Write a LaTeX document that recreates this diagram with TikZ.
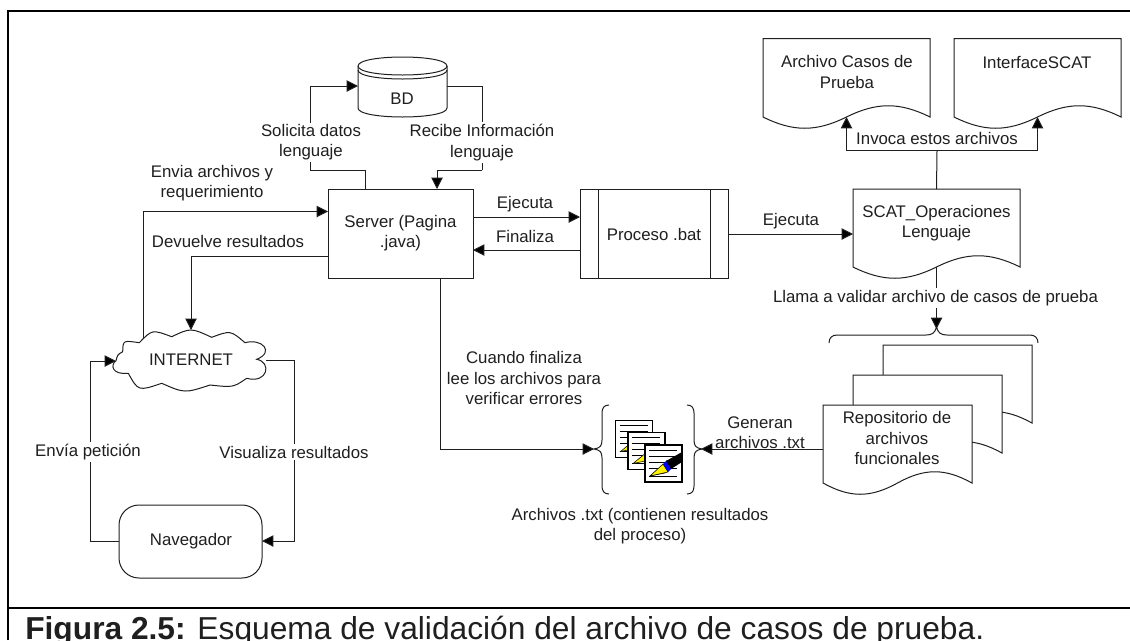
\documentclass[tikz,border=0pt]{standalone}
\usepackage{fontspec}
\setmainfont{Liberation Sans}
\usetikzlibrary{arrows.meta}
\definecolor{ink}{gray}{0.12}
\tikzset{
  ln/.style={draw=ink,line width=0.75pt},
  arr/.style={ln,-{Triangle[length=8.5pt,width=8.5pt,fill=black]}},
  shp/.style={ln,fill=white},
  anchorbox/.style={inner sep=0pt,outer sep=0pt},
  txt/.style={font=\fontsize{12.6pt}{15.2pt}\selectfont,align=center,inner sep=0pt,text=ink},
  lab/.style={txt,fill=white,inner sep=1.5pt},
}
% name x1 y1 x2 y2 : document shape with wavy bottom
\newcommand{\docshape}[5]{%
  \pgfmathsetmacro{\mx}{(#2+#4)/2}%
  \pgfmathsetmacro{\qw}{(#4-#2)/5.5}%
  \pgfmathsetmacro{\cxa}{#2+\qw}\pgfmathsetmacro{\cxb}{\mx-\qw}%
  \pgfmathsetmacro{\cxc}{\mx+\qw}\pgfmathsetmacro{\cxd}{#4-\qw}%
  \pgfmathsetmacro{\ylo}{#5+15}\pgfmathsetmacro{\yhi}{#5-15}%
  \path[shp] (#2,#3) -- (#4,#3) -- (#4,#5)
     .. controls (\cxd,\yhi) and (\cxc,\yhi) .. (\mx,#5)
     .. controls (\cxb,\ylo) and (\cxa,\ylo) .. (#2,#5) -- cycle;
  \node[anchorbox,minimum width={(#4-#2)*0.75pt},minimum height={(#5-#3)*0.75pt}] (#1) at ({(#2+#4)/2},{(#3+#5)/2}) {};
}
% sheet x y
\newcommand{\sheet}[2]{%
  \begin{scope}[shift={(#1,#2)}]
    \path[draw=black,line width=0.9pt,fill=white] (0,0) rectangle (37,37);
    \foreach \yy in {5,11,17,23}{\draw[black,line width=0.7pt] (4,\yy) -- (32,\yy);}
    \draw[black,line width=0.7pt] (4,31) -- (32,31);
    \path[fill=yellow,draw=black,line width=0.4pt] (5,31) -- (16,22) -- (20,28) -- cycle;
  \end{scope}}
\begin{document}
\begin{tikzpicture}[x=0.75pt,y=-0.75pt]
\useasboundingbox (0,0) rectangle (1130,640);
% frame
\draw[black,line width=1.5pt] (8,640) -- (8,10.5) -- (1130,10.5);
\draw[black,line width=1.5pt] (8,608) -- (1130,608);

% --- shapes
\node[anchorbox,shp,minimum width={145*0.75pt},minimum height={89*0.75pt}] (server) at (400.5,233.5) {};
\node[anchorbox,shp,minimum width={148*0.75pt},minimum height={89*0.75pt}] (proceso) at (654,233.5) {};
\draw[ln] (598,189) -- (598,278) (710,189) -- (710,278);
\node[anchorbox,shp,rounded corners=15pt,minimum width={143*0.75pt},minimum height={73*0.75pt}] (nav) at (190.5,541.5) {};

% BD
\path[shp] (358,66) -- (358,108) .. controls (358,120) and (447,120) .. (447,108) -- (447,66)
  .. controls (447,54) and (358,54) .. (358,66) -- cycle;
\draw[ln] (358,66) .. controls (358,78) and (447,78) .. (447,66);
\draw[ln] (358,70) .. controls (358,82) and (447,82) .. (447,70);
\node[anchorbox,minimum width={89*0.75pt},minimum height={60*0.75pt}] (bd) at (402.5,86) {};

% cloud
\path[shp] (116,360.7) .. controls (117.6,354.6) .. (122.7,351.7)
  .. controls (123,340.3) .. (139.3,342.7)
  .. controls (152.2,329.4) .. (171.7,336.7)
  .. controls (190.8,327.7) .. (211.7,337.3)
  .. controls (230.5,330.3) .. (245,342.7)
  .. controls (262,338) and (275,352) .. (256.7,359.3)
  .. controls (272,362) and (268,384) .. (246.7,378.3)
  .. controls (233.2,387.5) .. (210,385)
  .. controls (184.7,393.3) .. (161.7,383.3)
  .. controls (138.3,391.2) .. (128.3,373.3)
  .. controls (112,375) and (110,365) .. (116,360.7) -- cycle;
\node[anchorbox,minimum width={150*0.75pt},minimum height={60*0.75pt}] (cloudn) at (191,361) {};

% documents
\docshape{casos}{763}{38.5}{930}{117}
\docshape{iface}{954}{38.5}{1121}{117}
\docshape{scat}{853}{189}{1020}{267}
\docshape{repoc}{883}{345}{1032}{423}
\docshape{repob}{853}{375}{1002}{453}
\docshape{repo}{823}{405}{972}{483}

% braces
\draw[ln] (609,405) .. controls (604,405) and (602,408) .. (602,413) -- (602,440)
  .. controls (602,446) and (600,448) .. (594,449) .. controls (600,450) and (602,452) .. (602,458) -- (602,486)
  .. controls (602,491) and (604,494) .. (609,494);
\coordinate (bracel) at (594,449);
\draw[ln] (687,405) .. controls (692,405) and (694,408) .. (694,413) -- (694,440)
  .. controls (694,446) and (696,448) .. (702,449) .. controls (696,450) and (694,452) .. (694,458) -- (694,486)
  .. controls (694,491) and (692,494) .. (687,494);
\coordinate (bracer) at (701,449);
\draw[ln] (829,343) .. controls (829,338) and (832,335) .. (837,335) -- (926,335)
  .. controls (932,335) and (935,333) .. (936.5,327) .. controls (938,333) and (941,335) .. (947,335) -- (1030,335)
  .. controls (1035,335) and (1038,338) .. (1038,343);
\coordinate (bracet) at (936.5,329);

% icon
\sheet{615.5}{420.5}
\sheet{628}{432.5}
\sheet{645}{445}
\path[fill=yellow,draw=black,line width=0.4pt] (650,476) -- (663,464) -- (668,472) -- cycle;
\path[fill=blue] (663,464) -- (667,460) -- (672,468) -- (668,472) -- cycle;
\path[fill=black] (666,461) -- (682,452) -- (682,462) -- (671,469) -- cycle;

% --- connector waypoints
\coordinate (solS) at (365,189);
\coordinate (recS) at (437,189);
\coordinate (solY) at (310,170);
\coordinate (recY) at (482,170);
\coordinate (envS) at (328,211.5);
\coordinate (envC) at (143,338);
\coordinate (devS) at (328,256);
\coordinate (ejeS) at (473,217);
\coordinate (ejeP) at (580,217);
\coordinate (finP) at (580,250);
\coordinate (finS) at (473,250);
\coordinate (txtS) at (440,278);
\coordinate (scatW) at (853,234);
\coordinate (procE) at (728,234);
\coordinate (invY) at (937,150.5);
\coordinate (casB) at (846.5,117);
\coordinate (ifaB) at (1037.5,117);
\coordinate (navW) at (119,541);
\coordinate (navE) at (262,541);
\coordinate (lineL) at (90,361);
\coordinate (lineR) at (294,360);
\coordinate (cloudW) at (116,361);
\coordinate (cloudE) at (266,360);
\coordinate (cloudN) at (191,330);
\coordinate (bdW) at (358,86);
\coordinate (bdE) at (447,86);
\coordinate (repoW) at (823,449);

% --- connectors
\draw[arr] (solS) |- (solY) -- (solY |- bdW) -- (bdW);
\draw[arr] (recY) -- (recY -| recS) -- (recS);
\draw[ln] (bdE) -| (recY);
\draw[arr] (envC) |- (envS);
\draw[arr] (devS) -| (cloudN);
\draw[arr] (ejeS) -- (ejeP);
\draw[arr] (finP) -- (finS);
\draw[arr] (procE) -- (scatW);
\draw[arr] (txtS) |- (bracel);
\draw[arr] (repoW) -- (bracer);
\draw[arr] (scat.south) -- (bracet);
\draw[ln] (scat.north) -- (invY);
\draw[arr] (invY) -| (casB);
\draw[arr] (invY) -| (ifaB);
\draw[arr] (navW) -| (lineL) -- (cloudW);
\draw[arr] (cloudE) -| (lineR) |- (navE);

% --- texts
\node[txt] (tbd) at (402,99) {BD};
\node[txt] (tserver) at (400.5,233) {Server (Pagina\\.java)};
\node[txt] (tproc) at (654,234) {Proceso .bat};
\node[txt] (tnav) at (191,541) {Navegador};
\node[txt] (tnet) at (191,360) {INTERNET};
\node[txt] (tcasos) at (847,72) {Archivo Casos de\\Prueba};
\node[txt] (tiface) at (1037,62) {InterfaceSCAT};
\node[txt] (tscat) at (936.5,223) {SCAT\_Operaciones\\Lenguaje};
\node[txt] (trepo) at (897,438) {Repositorio de\\archivos\\funcionales};
\node[lab] (lsol) at (311,142.5) {Solicita datos\\lenguaje};
\node[lab] (lrec) at (482,142.5) {Recibe Información\\lenguaje};
\node[txt] (lenv) at (212,183.5) {Envia archivos y\\requerimiento};
\node[txt] (ldev) at (228,241) {Devuelve resultados};
\node[txt] (leje) at (525,204) {Ejecuta};
\node[txt] (lfin) at (525,236) {Finaliza};
\node[txt] (leje2) at (791,221) {Ejecuta};
\node[lab] (linv) at (937,138) {Invoca estos archivos};
\node[lab] (lllama) at (935.5,298) {Llama a validar archivo de casos de prueba};
\node[txt] (lcuando) at (524,378) {Cuando finaliza\\lee los archivos para\\verificar errores};
\node[txt] (lgen) at (760,432.5) {Generan\\archivos .txt};
\node[txt] (larch) at (640,526.5) {Archivos .txt (contienen resultados\\del proceso)};
\node[lab] (lenvp) at (88,452) {Envía petición};
\node[lab] (lvis) at (294,452) {Visualiza resultados};
\node[anchor=base west,inner sep=0pt,font=\fontsize{23.8pt}{26pt}\selectfont,text=ink] (cap) at (25,639)
  {\textbf{Figura 2.5:} Esquema de validación del archivo de casos de prueba.};
\end{tikzpicture}
\end{document}
